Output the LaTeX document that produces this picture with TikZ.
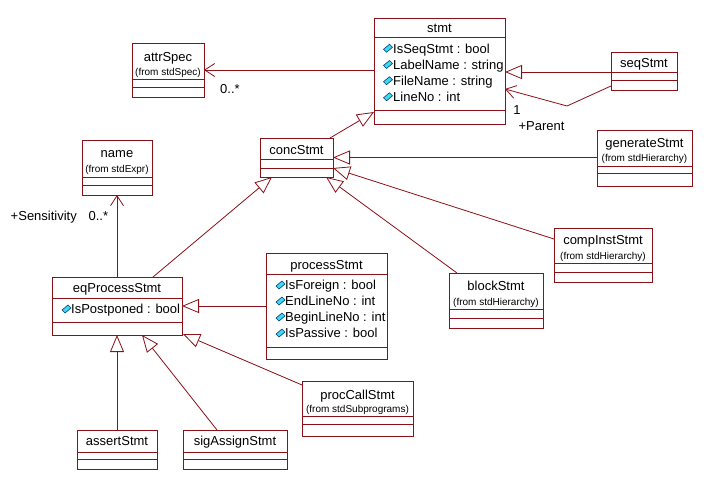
\documentclass[tikz,border=0pt]{standalone}
\usepackage{fontspec}
\setmainfont{Liberation Sans}
\usetikzlibrary{arrows.meta,calc}
\definecolor{umlred}{RGB}{140,16,24}
\definecolor{iconfill}{RGB}{64,216,240}
\definecolor{iconline}{RGB}{0,64,128}
\newcommand\umlcls[7]{%
  \node[cls, minimum width={(#4-#2)*1pt}, minimum height={(#5-#3)*1pt}] (#1) at ({(#2+#4)/2},{(#3+#5)/2}) {};
  \draw[sepline] (#2,#6) -- (#4,#6);
  \draw[sepline] (#2,#7) -- (#4,#7);
}
\begin{document}
\begin{tikzpicture}[x=1pt,y=-1pt,
  cls/.style={draw=umlred, line width=1pt, fill=white, rectangle, inner sep=0pt, outer sep=0pt},
  sepline/.style={draw=umlred, line width=1pt},
  ttl/.style={font=\fontsize{13}{15}\selectfont, inner sep=0pt, text height=9.4pt, text depth=0pt},
  frm/.style={font=\fontsize{10}{12}\selectfont, inner sep=0pt, text height=7.2pt, text depth=0pt},
  atr/.style={ttl, anchor=west},
  lbl/.style={ttl},
  gen/.style={draw=umlred, line width=0.8pt, -{Triangle[open, length=17pt, width=14pt]}},
  asc/.style={draw=umlred, line width=0.8pt, -{Straight Barb[length=10pt, width=13pt]}},
  attricon/.pic={\filldraw[fill=iconfill, draw=iconline, line width=0.6pt] (-4.5,1) -- (1.5,-4) -- (4.5,-1) -- (-1.5,4) -- cycle;}
]
\useasboundingbox[fill=white] (0,0) rectangle (716,483);

% stmt
\umlcls{stmt}{374}{18}{505}{124}{37}{110}
\node[ttl] (stmtT) at (439.5,27.5) {stmt};
\pic at (388,48.3) {attricon}; \node[atr] (stmtA1) at (393,48.3) {IsSeqStmt : bool};
\pic at (388,64.5) {attricon}; \node[atr] (stmtA2) at (393,64.5) {LabelName : string};
\pic at (388,80.7) {attricon}; \node[atr] (stmtA3) at (393,80.7) {FileName : string};
\pic at (388,96.8) {attricon}; \node[atr] (stmtA4) at (393,96.8) {LineNo : int};

% attrSpec
\umlcls{attrSpec}{132}{43}{204}{97}{79}{87}
\node[ttl] (attrSpecT) at (168,56.7) {attrSpec};
\node[frm] (attrSpecF) at (168,72.3) {(from stdSpec)};

% seqStmt
\umlcls{seqStmt}{611}{52}{677}{90}{72}{80}
\node[ttl] (seqStmtT) at (644,62.5) {seqStmt};

% generateStmt
\umlcls{generateStmt}{597}{130}{692}{186}{166}{173.5}
\node[ttl] (generateStmtT) at (644.5,142.7) {generateStmt};
\node[frm] (generateStmtF) at (644.5,158.3) {(from stdHierarchy)};

% concStmt
\umlcls{concStmt}{260}{138}{333}{177}{159}{168}
\node[ttl] (concStmtT) at (296.5,149.5) {concStmt};

% name
\umlcls{name}{82}{140}{152}{195}{177}{185}
\node[ttl] (nameT) at (117,152.7) {name};
\node[frm] (nameF) at (117,169) {(from stdExpr)};

% eqProcessStmt
\umlcls{eqProcessStmt}{52}{277}{182}{335}{298}{322}
\node[ttl] (eqProcessStmtT) at (117,288) {eqProcessStmt};
\pic at (66.5,309) {attricon}; \node[atr] (eqProcessStmtA1) at (71,309) {IsPostponed : bool};

% processStmt
\umlcls{processStmt}{266}{253}{387}{359}{274}{347}
\node[ttl] (processStmtT) at (326.5,264.5) {processStmt};
\pic at (280.5,285) {attricon}; \node[atr] (processStmtA1) at (285,285) {IsForeign : bool};
\pic at (280.5,301) {attricon}; \node[atr] (processStmtA2) at (285,301) {EndLineNo : int};
\pic at (280.5,317) {attricon}; \node[atr] (processStmtA3) at (285,317) {BeginLineNo : int};
\pic at (280.5,333) {attricon}; \node[atr] (processStmtA4) at (285,333) {IsPassive : bool};

% compInstStmt
\umlcls{compInstStmt}{554}{228}{652}{282}{263}{272}
\node[ttl] (compInstStmtT) at (603,239.3) {compInstStmt};
\node[frm] (compInstStmtF) at (603,256) {(from stdHierarchy)};

% blockStmt
\umlcls{blockStmt}{449}{273}{543}{328}{309}{318}
\node[ttl] (blockStmtT) at (496,285.7) {blockStmt};
\node[frm] (blockStmtF) at (496,302.3) {(from stdHierarchy)};

% procCallStmt
\umlcls{procCallStmt}{302}{381}{413}{436}{416}{424}
\node[ttl] (procCallStmtT) at (357.5,394.3) {procCallStmt};
\node[frm] (procCallStmtF) at (357.5,409) {(from stdSubprograms)};

% assertStmt
\umlcls{assertStmt}{77}{430}{157}{469}{452}{459.5}
\node[ttl] (assertStmtT) at (117,441) {assertStmt};

% sigAssignStmt
\umlcls{sigAssignStmt}{183}{430}{287}{469}{452}{459.5}
\node[ttl] (sigAssignStmtT) at (235,441) {sigAssignStmt};

% connectors
\draw[asc] (stmt.west |- attrSpec.east) -- (attrSpec.east);
\node[lbl] (l0) at (230,89) {0..*};

\draw[gen] ($(seqStmt.north west)+(0,20)$) -- ($(stmt.north east)+(0,54)$);
\coordinate (bend) at (567,106);
\draw[asc] ($(seqStmt.south west)+(0,-4)$) -- (bend) -- ($(stmt.north east)+(0,71)$);
\node[lbl] (l1) at (517,110) {1};
\node[lbl] (lParent) at (541.5,125.5) {+Parent};

\draw[gen] ($(concStmt.north east)+(-3,0)$) -- ($(stmt.south west)+(0,-12)$);
\draw[gen] (generateStmt.west |- concStmt.east) -- (concStmt.east);
\draw[gen] ($(compInstStmt.north west)+(0,11)$) -- ($(concStmt.south east)+(0,-9)$);
\draw[gen] ($(blockStmt.north west)+(8,0)$) -- ($(concStmt.south east)+(-7,0)$);
\draw[gen] ($(eqProcessStmt.north east)+(-29,0)$) -- ($(concStmt.south west)+(12,0)$);

\draw[asc] (eqProcessStmt.north) -- (name.south);
\node[lbl] (lSens) at (43.8,216) {+Sensitivity};
\node[lbl] (l0b) at (98.3,216) {0..*};

\draw[gen] (processStmt.west |- eqProcessStmt.east) -- (eqProcessStmt.east);
\draw[gen] ($(procCallStmt.north west)+(0,4)$) -- ($(eqProcessStmt.south east)+(1,-1)$);
\draw[gen] (assertStmt.north) -- (eqProcessStmt.south);
\draw[gen] ($(sigAssignStmt.north west)+(34,0)$) -- ($(eqProcessStmt.south west)+(90,0)$);
\end{tikzpicture}
\end{document}
